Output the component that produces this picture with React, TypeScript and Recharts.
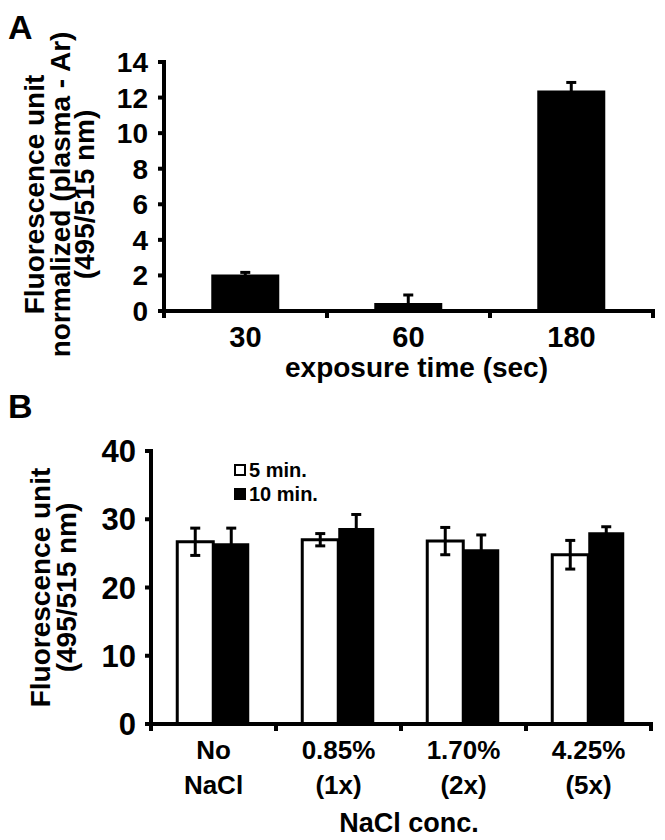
import React from "react";
import { Bar, BarChart, ErrorBar, Legend, XAxis, YAxis } from "recharts";

const FONT = "'Liberation Sans', Arial, Helvetica, sans-serif";

// panel A
const exposureTimes = ["30", "60", "180"];
const exposureValues = [2.05, 0.45, 12.4];
const exposureErrors = [0.12, 0.45, 0.45];
const exposureTicks = [0, 2, 4, 6, 8, 10, 12, 14];

// panel B
const naclLabels = [
  ["No", "NaCl"],
  ["0.85%", "(1x)"],
  ["1.70%", "(2x)"],
  ["4.25%", "(5x)"],
];
const fiveMin = [26.7, 27.0, 26.8, 24.8];
const fiveMinErr = [2.0, 0.9, 2.0, 2.1];
const tenMin = [26.5, 28.7, 25.6, 28.1];
const tenMinErr = [2.2, 2.0, 2.1, 0.8];
const naclTicks = [0, 10, 20, 30, 40];

const dataA = exposureTimes.map((time, i) => ({
  time,
  value: exposureValues[i],
  err: exposureErrors[i],
}));

const dataB = naclLabels.map((lines, i) => ({
  conc: lines[0],
  five: fiveMin[i],
  fiveErr: fiveMinErr[i],
  ten: tenMin[i],
  tenErr: tenMinErr[i],
}));

const frameLine = { stroke: "#000", strokeWidth: 4, strokeLinecap: "square" as const };

// category label plus tick marks on the band edges
function EdgeTick(props: any) {
  const { x, y, payload, index, visibleTicksCount, lines, fontSize, dys } = props;
  const half = payload?.offset ?? 0;
  const rows: string[] = lines ? lines[index] : [String(payload.value)];
  const last = index === (visibleTicksCount ?? 0) - 1;
  return (
    <g>
      <line x1={x - half} x2={x - half} y1={y} y2={y + 7} stroke="#000" strokeWidth={4} />
      {last && <line x1={x + half} x2={x + half} y1={y} y2={y + 7} stroke="#000" strokeWidth={4} />}
      <text x={x} y={y} textAnchor="middle" fontFamily={FONT} fontWeight="bold" fontSize={fontSize} fill="#000">
        {rows.map((r, i) => (
          <tspan key={i} x={x} y={y + dys[i]}>
            {r}
          </tspan>
        ))}
      </text>
    </g>
  );
}

function XTitle(props: any) {
  const { viewBox, text, dy, dx, fontSize } = props;
  const cx = viewBox.x + viewBox.width / 2 + dx;
  return (
    <text x={cx} y={viewBox.y + dy} textAnchor="middle" fontFamily={FONT} fontWeight="bold" fontSize={fontSize} fill="#000">
      {text}
    </text>
  );
}

function YTitle(props: any) {
  const { viewBox, lines, xs, fontSize, shift = 0 } = props;
  const cy = viewBox.y + viewBox.height / 2 + shift;
  return (
    <g>
      {lines.map((l: string, i: number) => (
        <text
          key={i}
          x={xs[i]}
          y={cy}
          transform={`rotate(-90, ${xs[i]}, ${cy})`}
          textAnchor="middle"
          fontFamily={FONT}
          fontWeight="bold"
          fontSize={fontSize}
          fill="#000"
        >
          {l}
        </text>
      ))}
    </g>
  );
}

function TimeLegend() {
  const row = { display: "flex", alignItems: "center", height: 24 };
  const box = { width: 12, height: 12, boxSizing: "border-box" as const, marginRight: 3 };
  return (
    <div style={{ fontFamily: FONT, fontWeight: "bold", fontSize: 20, color: "#000", lineHeight: "24px" }}>
      <div style={row}>
        <span style={{ ...box, border: "2px solid #000", background: "#fff" }} />
        <span>5 min.</span>
      </div>
      <div style={row}>
        <span style={{ ...box, background: "#000" }} />
        <span>10 min.</span>
      </div>
    </div>
  );
}

const panelLetter = {
  position: "absolute" as const,
  left: 8,
  fontFamily: FONT,
  fontWeight: "bold",
  fontSize: 34,
  lineHeight: 1,
  color: "#000",
};

export default function App() {
  return (
    <div style={{ position: "absolute", left: 0, top: 0, width: 665, height: 840, background: "#fff" }}>
      <div style={{ ...panelLetter, top: 10 }}>A</div>
      <div style={{ ...panelLetter, top: 389 }}>B</div>

      <div style={{ position: "absolute", left: 0, top: 0 }}>
        <BarChart width={665} height={390} data={dataA} margin={{ top: 62, right: 12, left: 0, bottom: 0 }} barCategoryGap="29%">
          <XAxis
            dataKey="time"
            height={79}
            interval={0}
            axisLine={frameLine}
            tickLine={false}
            tickSize={0}
            tickMargin={0}
            tick={<EdgeTick fontSize={29} dys={[36]} />}
            label={<XTitle text="exposure time (sec)" dy={66} dx={8} fontSize={28} />}
          />
          <XAxis xAxisId="top" orientation="top" dataKey="time" height={0} tick={false} tickLine={false} axisLine={frameLine} />
          <YAxis
            domain={[0, 14]}
            ticks={exposureTicks}
            interval={0}
            width={164}
            axisLine={frameLine}
            tickLine={{ stroke: "#000", strokeWidth: 4 }}
            tickSize={6}
            tickMargin={10}
            tick={{ fill: "#000", fontSize: 28, fontWeight: "bold", fontFamily: FONT }}
            label={
              <YTitle
                lines={["Fluorescence unit", "normalized (plasma - Ar)", "(495/515 nm)"]}
                xs={[44, 70, 94]}
                fontSize={28}
                shift={8}
              />
            }
          />
          <YAxis yAxisId="right" orientation="right" domain={[0, 14]} width={0} tick={false} tickLine={false} axisLine={frameLine} />
          <Bar dataKey="value" fill="#000" isAnimationActive={false}>
            <ErrorBar dataKey="err" width={5} strokeWidth={3} stroke="#000" direction="y" />
          </Bar>
        </BarChart>
      </div>

      <div style={{ position: "absolute", left: 0, top: 380 }}>
        <BarChart
          width={665}
          height={460}
          data={dataB}
          margin={{ top: 71, right: 14, left: 0, bottom: 0 }}
          barCategoryGap="21%"
          barGap={0}
        >
          <XAxis
            dataKey="conc"
            height={116}
            interval={0}
            axisLine={frameLine}
            tickLine={false}
            tickSize={0}
            tickMargin={0}
            tick={<EdgeTick fontSize={26} lines={naclLabels} dys={[35, 70]} />}
            label={<XTitle text="NaCl conc." dy={108} dx={8} fontSize={27} />}
          />
          <XAxis xAxisId="top" orientation="top" dataKey="conc" height={0} tick={false} tickLine={false} axisLine={frameLine} />
          <YAxis
            domain={[0, 40]}
            ticks={naclTicks}
            interval={0}
            width={151}
            axisLine={frameLine}
            tickLine={{ stroke: "#000", strokeWidth: 4 }}
            tickSize={6}
            tickMargin={9}
            tick={{ fill: "#000", fontSize: 31, fontWeight: "bold", fontFamily: FONT }}
            label={<YTitle lines={["Fluorescence unit", "(495/515 nm)"]} xs={[50, 76]} fontSize={28} />}
          />
          <YAxis yAxisId="right" orientation="right" domain={[0, 40]} width={0} tick={false} tickLine={false} axisLine={frameLine} />
          <Legend
            layout="vertical"
            align="center"
            verticalAlign="middle"
            wrapperStyle={{ top: 78, left: 234, width: "auto" }}
            content={() => <TimeLegend />}
          />
          <Bar dataKey="five" name="5 min." fill="#fff" stroke="#000" strokeWidth={3} isAnimationActive={false}>
            <ErrorBar dataKey="fiveErr" width={5} strokeWidth={3} stroke="#000" direction="y" />
          </Bar>
          <Bar dataKey="ten" name="10 min." fill="#000" isAnimationActive={false}>
            <ErrorBar dataKey="tenErr" width={5} strokeWidth={3} stroke="#000" direction="y" />
          </Bar>
        </BarChart>
      </div>
    </div>
  );
}
